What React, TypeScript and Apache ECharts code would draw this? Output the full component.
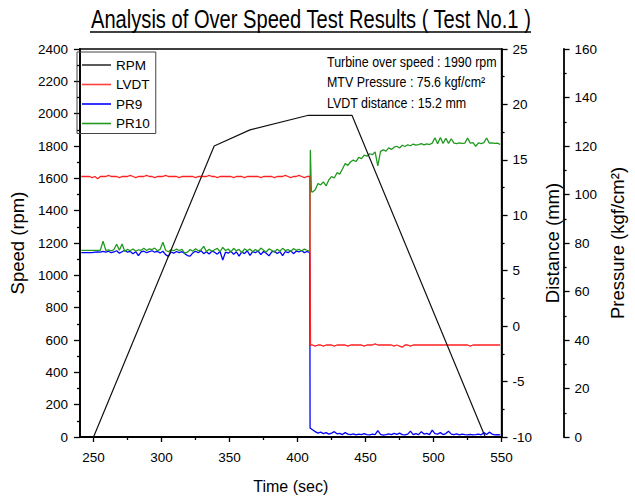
import { useEffect, useRef } from 'react';
import * as echarts from 'echarts';

const FONT = "'Liberation Sans', Arial, Helvetica, sans-serif";

// ---- Text ----
const titleText = 'Analysis of Over Speed Test Results ( Test No.1 )';
const noteLines = ['Turbine over speed : 1990 rpm', 'MTV Pressure : 75.6 kgf/cm\u00B2', 'LVDT distance : 15.2 mm'];
const seriesNames = ['RPM', 'LVDT', 'PR9', 'PR10'];

// ---- Ticks ----
const xMajorTicks = [250, 300, 350, 400, 450, 500, 550];
const xMinorTicks = [275, 325, 375, 425, 475, 525];

// ---- RPM (speed, rpm) ----
const rpmTimes = [250, 338.7, 365, 408, 440, 538];
const rpmValues = [0, 1800, 1900, 1990, 1990, 0];

// ---- Sampled signals (sampling grid) ----
const sampleStartBefore = 241;
const sampleStartAfter = 411;
const sampleStep = 2;

// LVDT (mm)
const lvdtBefore = [
  13.5, 13.5, 13.5, 13.5, 13.4, 13.5, 13.3, 13.5, 13.5, 13.5,
  13.6, 13.5, 13.5, 13.5, 13.4, 13.5, 13.5, 13.5, 13.6, 13.5,
  13.4, 13.5, 13.5, 13.5, 13.6, 13.5, 13.5, 13.4, 13.5, 13.5,
  13.5, 13.6, 13.5, 13.5, 13.5, 13.5, 13.4, 13.5, 13.5, 13.5,
  13.5, 13.5, 13.4, 13.5, 13.5, 13.5, 13.5, 13.6, 13.5, 13.5,
  13.4, 13.5, 13.5, 13.5, 13.5, 13.5, 13.4, 13.5, 13.5, 13.5,
  13.4, 13.5, 13.5, 13.5, 13.5, 13.5, 13.4, 13.5, 13.5, 13.5,
  13.5, 13.4, 13.5, 13.5, 13.5, 13.6, 13.5, 13.4, 13.5, 13.5,
  13.6, 13.5, 13.4, 13.5, 13.5,
];
const lvdtStepTimes = [409.5, 409.5];
const lvdtStepValues = [13.5, -1.7];
const lvdtAfter = [
  -1.7, -1.8, -1.7, -1.7, -1.8, -1.7, -1.7, -1.7, -1.8, -1.7,
  -1.7, -1.7, -1.7, -1.8, -1.7, -1.7, -1.7, -1.7, -1.7, -1.8,
  -1.7, -1.7, -1.7, -1.6, -1.7, -1.7, -1.7, -1.7, -1.7, -1.7,
  -1.8, -1.7, -1.8, -1.9, -1.7, -1.7, -1.8, -1.7, -1.7, -1.7,
  -1.7, -1.7, -1.7, -1.7, -1.7, -1.7, -1.7, -1.7, -1.7, -1.7,
  -1.7, -1.7, -1.7, -1.7, -1.7, -1.7, -1.7, -1.7, -1.8, -1.7,
  -1.7, -1.7, -1.7, -1.7, -1.7, -1.7, -1.7, -1.7, -1.7, -1.7,
];

// PR9 (kgf/cm2)
const pr9Before = [
  76.0, 76.0, 76.0, 76.0, 76.0, 76.2, 76.3, 76.2, 76.5, 76.2,
  76.6, 76.0, 76.3, 76.8, 75.8, 76.4, 77.0, 76.2, 76.5, 75.6,
  76.4, 74.8, 76.3, 76.6, 76.0, 76.4, 76.8, 76.2, 76.5, 75.9,
  76.6, 75.2, 74.5, 76.3, 75.8, 76.5, 76.0, 76.4, 75.7, 74.8,
  74.6, 75.9, 76.6, 76.0, 76.8, 75.6, 76.4, 75.5, 76.6, 76.2,
  75.4, 76.5, 73.0, 76.2, 75.8, 76.6, 75.3, 76.4, 74.6, 76.3,
  75.6, 76.8, 74.9, 76.4, 76.0, 76.7, 75.2, 76.5, 75.8, 74.7,
  76.3, 76.6, 75.7, 76.4, 74.8, 76.5, 76.0, 76.8, 75.6, 76.6,
  76.3, 76.9, 76.0, 76.5, 76.0,
];
const pr9StepTimes = [409.2, 409.2];
const pr9StepValues = [76.0, 3.7];
const pr9After = [
  3.0, 2.2, 1.6, 2.0, 1.4, 1.8, 1.2, 1.6, 2.2, 1.3,
  1.5, 1.0, 1.8, 1.2, 1.0, 1.3, 0.9, 1.2, 1.0, 1.4,
  1.0, 0.9, 1.2, 1.0, 2.6, 1.1, 0.8, 1.0, 1.3, 1.0,
  1.5, 1.1, 1.6, 1.0, 0.9, 1.2, 2.4, 1.0, 1.4, 1.0,
  2.2, 1.2, 1.5, 1.0, 2.8, 1.4, 1.2, 1.8, 1.0, 1.4,
  2.4, 1.2, 1.0, 1.3, 0.9, 1.2, 1.0, 0.9, 1.1, 0.9,
  1.0, 1.2, 0.9, 1.8, 1.0, 2.0, 1.2, 0.9, 1.0, 0.9,
];

// PR10 (kgf/cm2)
const pr10Before = [
  77.0, 77.0, 77.0, 77.0, 77.0, 77.0, 77.0, 77.0, 80.8, 77.0,
  77.2, 76.8, 77.3, 79.5, 77.0, 79.6, 76.5, 77.4, 76.8, 77.5,
  76.6, 77.2, 77.0, 77.8, 76.9, 77.6, 77.3, 77.9, 76.8, 77.4,
  80.3, 77.0, 76.4, 77.2, 76.8, 77.5, 76.9, 77.4, 75.8, 76.2,
  77.3, 76.6, 77.6, 76.8, 77.2, 78.6, 76.5, 77.4, 76.6, 77.2,
  77.8, 76.4, 78.2, 76.9, 77.5, 76.3, 77.8, 76.8, 77.4, 75.9,
  77.6, 76.8, 77.5, 76.4, 77.3, 76.6, 77.9, 77.0, 76.3, 77.6,
  77.0, 76.2, 77.4, 76.6, 77.8, 76.9, 77.3, 76.5, 77.7, 77.0,
  77.4, 76.7, 77.5, 77.0, 76.6,
];
const pr10StepTimes = [409.4, 409.4, 409.8, 410.2];
const pr10StepValues = [76.6, 118.4, 118.4, 101.2];
const pr10After = [
  101.0, 102.0, 104.5, 104.0, 105.2, 103.6, 106.0, 107.4, 106.8, 109.0,
  108.4, 110.5, 112.8, 112.0, 113.5, 114.2, 113.6, 115.3, 114.8, 116.2,
  115.8, 116.8, 116.4, 117.6, 111.8, 117.8, 118.4, 117.9, 119.2, 118.6,
  119.5, 119.9, 119.2, 120.3, 119.8, 120.5, 120.1, 120.8, 120.4, 120.6,
  121.0, 120.5, 120.9, 120.6, 121.2, 123.4, 120.9, 123.5, 121.0, 123.2,
  121.1, 123.0, 121.2, 121.0, 121.3, 121.1, 121.2, 123.3, 121.2, 121.4,
  119.9, 121.3, 121.0, 121.4, 123.3, 121.2, 121.3, 121.1, 121.2, 120.6,
];

const sampled = (start: number, values: number[]) => values.map((v, i) => [start + i * sampleStep, v]);
const zip = (ts: number[], vs: number[]) => ts.map((t, i) => [t, vs[i]]);
const joinSignal = (before: number[], stepT: number[], stepV: number[], after: number[]) => [
  ...sampled(sampleStartBefore, before),
  ...zip(stepT, stepV),
  ...sampled(sampleStartAfter, after),
];

const black = '#000';
const plainNumber = (v: number) => String(v);
const labelStyle = { color: black, fontSize: 13.5, fontFamily: FONT, formatter: plainNumber };
const axisLineStyle = { show: true, onZero: false, lineStyle: { color: black, width: 1.8 } };
const majorTick = { show: true, length: 6, lineStyle: { color: black, width: 1.3 } };
const minorTick = { show: true, splitNumber: 2, length: 3, lineStyle: { color: black, width: 1.3 } };

export default function App() {
  const ref = useRef<HTMLDivElement>(null);
  useEffect(() => {
    if (!ref.current) return;
    const chart = echarts.init(ref.current, null, { renderer: 'svg' });
    const nameStyle = (size: number) => ({ color: black, fontSize: size, fontFamily: FONT });
    const option: any = {
      animation: false,
      backgroundColor: '#fff',
      grid: { left: 76, right: 125, top: 49, bottom: 60, show: true, borderColor: black, borderWidth: 1.5, backgroundColor: 'transparent' },
      legend: {
        data: seriesNames,
        orient: 'vertical',
        left: 77,
        top: 52,
        icon: 'rect',
        itemWidth: 29,
        itemHeight: 1.6,
        itemGap: 5.5,
        padding: [6, 6, 3, 5],
        borderColor: '#444',
        borderWidth: 1,
        textStyle: { color: black, fontSize: 13.5, fontFamily: FONT, lineHeight: 14 },
      },
      xAxis: [
        {
          type: 'value', min: 240, max: 550, position: 'bottom',
          axisLine: axisLineStyle,
          axisTick: { ...majorTick, length: 5, customValues: xMajorTicks },
          axisLabel: { ...labelStyle, margin: 13, customValues: xMajorTicks },
          splitLine: { show: false },
          name: 'Time (sec)', nameLocation: 'middle', nameGap: 41, nameTextStyle: nameStyle(16),
        },
        {
          type: 'value', min: 240, max: 550, position: 'bottom',
          axisLine: { show: false },
          axisTick: { show: true, length: 3, lineStyle: { color: black, width: 1.3 }, customValues: xMinorTicks },
          axisLabel: { show: false },
          splitLine: { show: false },
        },
      ],
      yAxis: [
        {
          type: 'value', min: 0, max: 2400, interval: 200, position: 'left',
          axisLine: axisLineStyle, axisTick: majorTick, minorTick,
          axisLabel: { ...labelStyle, margin: 12 },
          splitLine: { show: false }, minorSplitLine: { show: false },
          name: 'Speed (rpm)', nameLocation: 'middle', nameRotate: 90, nameGap: 45, nameTextStyle: nameStyle(18.5),
        },
        {
          type: 'value', min: -10, max: 25, interval: 5, position: 'right',
          axisLine: axisLineStyle, axisTick: majorTick, minorTick,
          axisLabel: { ...labelStyle, margin: 11 },
          splitLine: { show: false }, minorSplitLine: { show: false },
          name: 'Distance (mm)', nameLocation: 'middle', nameRotate: 90, nameGap: 28, nameTextStyle: nameStyle(18.5),
        },
        {
          type: 'value', min: 0, max: 160, interval: 20, position: 'right', offset: 62,
          axisLine: axisLineStyle, axisTick: majorTick, minorTick,
          axisLabel: { ...labelStyle, margin: 11 },
          splitLine: { show: false }, minorSplitLine: { show: false },
          name: 'Pressure (kgf/cm\u00B2)', nameLocation: 'middle', nameRotate: 90, nameGap: 28, nameTextStyle: nameStyle(18.5),
        },
      ],
      series: [
        {
          name: 'PR9', type: 'line', yAxisIndex: 2, showSymbol: false, symbol: 'none',
          lineStyle: { color: '#0000ff', width: 1.3 }, itemStyle: { color: '#0000ff' },
          data: joinSignal(pr9Before, pr9StepTimes, pr9StepValues, pr9After),
        },
        {
          name: 'PR10', type: 'line', yAxisIndex: 2, showSymbol: false, symbol: 'none',
          lineStyle: { color: '#1f9a1f', width: 1.3 }, itemStyle: { color: '#1f9a1f' },
          data: joinSignal(pr10Before, pr10StepTimes, pr10StepValues, pr10After),
        },
        {
          name: 'LVDT', type: 'line', yAxisIndex: 1, showSymbol: false, symbol: 'none',
          lineStyle: { color: '#ff2020', width: 1.3 }, itemStyle: { color: '#ff4040' },
          data: joinSignal(lvdtBefore, lvdtStepTimes, lvdtStepValues, lvdtAfter),
        },
        {
          name: 'RPM', type: 'line', yAxisIndex: 0, showSymbol: false, symbol: 'none',
          lineStyle: { color: '#111', width: 1.2 }, itemStyle: { color: '#333' },
          data: zip(rpmTimes, rpmValues),
        },
      ],
      graphic: [
        {
          type: 'text', x: 91, y: 19, scaleX: 0.805,
          style: {
            text: titleText, fontSize: 25, fontFamily: FONT, fill: black,
            align: 'left', verticalAlign: 'middle', textAlign: 'left', textVerticalAlign: 'middle',
          },
        },
        { type: 'line', shape: { x1: 90, y1: 32, x2: 531, y2: 32 }, style: { stroke: black, lineWidth: 1.5 } },
        ...noteLines.map((t, i) => ({
          type: 'text', x: 327, y: 62 + i * 20.5, scaleX: 0.83,
          style: {
            text: t, fontSize: 15, fontFamily: FONT, fill: black,
            align: 'left', verticalAlign: 'middle', textAlign: 'left', textVerticalAlign: 'middle',
          },
        })),
      ],
    };
    chart.setOption(option);
    return () => chart.dispose();
  }, []);
  return <div ref={ref} style={{ position: 'fixed', left: 0, top: 0, width: 635, height: 499, background: '#fff' }} />;
}
